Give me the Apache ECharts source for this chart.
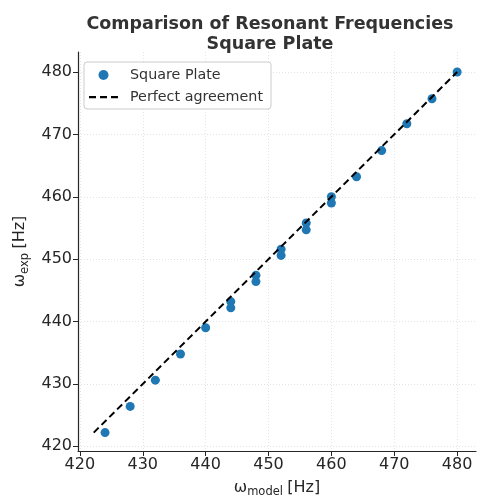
<!DOCTYPE html>
<html>
<head>
<meta charset="utf-8">
<script src="https://cdn.jsdelivr.net/npm/echarts@6/dist/echarts.min.js"></script>
<style>
  html, body { margin: 0; padding: 0; background: #fff; }
  #chart { width: 477px; height: 499px; }
</style>
</head>
<body>
<div id="chart"></div>
<script>
  // model frequencies (x) and measured ones (y)
  var modelHz = [424, 428, 432, 436, 440, 444, 444, 448, 448, 452, 452, 456, 456, 460, 460, 464, 468, 472, 476, 480];
  var expHz   = [422.2, 426.4, 430.6, 434.8, 439.0, 443.2, 442.2, 447.4, 446.4, 451.6, 450.6, 455.8, 454.7, 460.0, 459.0, 463.2, 467.4, 471.7, 475.7, 480.0];
  var tickValues = [420, 430, 440, 450, 460, 470, 480];
  var lineEnds = [422.2, 480];

  var font = 'DejaVu Sans';
  var myChart = echarts.init(document.getElementById('chart'));

  var points = modelHz.map(function (x, i) { return [x, expHz[i]]; });
  var diag = lineEnds.map(function (v) { return [v, v]; });

  var nameRich = {
    w: { fontFamily: font, fontSize: 16, color: '#262626' },
    s: { fontFamily: font, fontSize: 11.5, color: '#262626', padding: [9, 1, 0, 0] }
  };

  // dashed line icon for the legend (bbox 29x10)
  var dashIcon = 'path://M0,0M29,10M0,4h7v2.2h-7zM11,4h7v2.2h-7zM22,4h7v2.2h-7z';

  var axisCommon = {
    type: 'value',
    nameLocation: 'middle',
    axisLine: { show: true, lineStyle: { color: '#262626', width: 1.2 } },
    axisTick: { show: true, inside: false, length: 5, customValues: tickValues, lineStyle: { color: '#262626' } },
    axisLabel: { customValues: tickValues, color: '#262626', fontSize: 16, fontFamily: font, margin: 6 },
    splitLine: { show: true, lineStyle: { color: '#dcdcdc', type: [1, 2], width: 0.8 } }
  };

  var option = {
    animation: false,
    backgroundColor: '#fff',
    title: {
      text: 'Comparison of Resonant Frequencies\nSquare Plate',
      left: 265,
      textAlign: 'center',
      top: 9,
      textStyle: { fontFamily: font, fontWeight: 'bold', fontSize: 17.5, color: '#333', lineHeight: 20 }
    },
    grid: { left: 78, right: 1, top: 52, bottom: 48, outerBoundsMode: 'none' },
    legend: {
      orient: 'vertical',
      left: 84,
      top: 62,
      padding: [6, 8, 5, 5],
      itemGap: 8,
      itemWidth: 29,
      itemHeight: 10,
      backgroundColor: '#fff',
      borderColor: '#cccccc',
      borderWidth: 1,
      borderRadius: 3,
      textStyle: { fontFamily: font, fontSize: 14.3, color: '#333', padding: [0, 0, 0, 7] },
      data: [
        { name: 'Square Plate', icon: 'circle' },
        { name: 'Perfect agreement', icon: dashIcon }
      ]
    },
    xAxis: Object.assign({}, axisCommon, {
      min: 419.7, max: 483,
      name: '{w|ω}{s|model} {w|[Hz]}',
      nameGap: 26,
      nameTextStyle: { rich: nameRich }
    }),
    yAxis: Object.assign({}, axisCommon, {
      min: 419.25, max: 483.2,
      name: '{w|ω}{s|exp} {w|[Hz]}',
      nameGap: 39,
      nameTextStyle: { rich: nameRich }
    }),
    series: [
      {
        name: 'Square Plate',
        type: 'scatter',
        data: points,
        symbolSize: 9,
        itemStyle: { color: '#1f77b4', opacity: 1 },
        z: 2
      },
      {
        name: 'Perfect agreement',
        type: 'line',
        data: diag,
        showSymbol: false,
        symbol: 'none',
        lineStyle: { color: '#000', width: 2, type: [7, 4] },
        itemStyle: { color: '#000' },
        z: 3
      }
    ]
  };

  myChart.setOption(option);
</script>
</body>
</html>
